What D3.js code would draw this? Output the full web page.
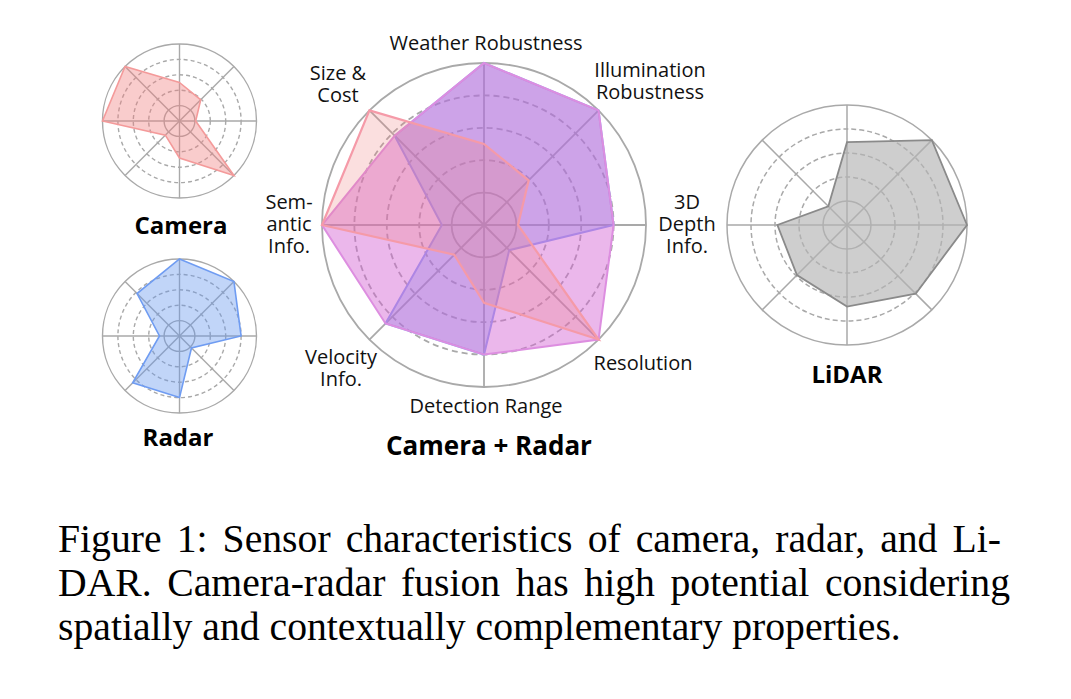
<!DOCTYPE html>
<html><head><meta charset="utf-8">
<script src="https://cdn.jsdelivr.net/npm/d3@7"></script>
<style>body{margin:0;background:#fff} svg{display:block}</style>
</head><body><svg id="c" width="1071" height="699"></svg>
<script>
// ---------- data ----------
const axes = ["Weather Robustness","Illumination Robustness","3D Depth Info.","Resolution","Detection Range","Velocity Info.","Semantic Info.","Size & Cost"];
const cameraValues = [2.5, 1.95, 1.05, 5, 2.4, 1.3, 5, 5];
const radarValues  = [5, 5, 4, 1.1, 4, 4.3, 1.3, 3.9];
const fusionValues = [5, 5, 4, 5, 4, 4.3, 5, 3.9];
const lidarValues  = [3.45, 5, 5, 4.05, 3.4, 2.95, 2.9, 1.1];
const ringTicks = [1, 2, 3, 4, 5];
const axisLabelLines = [["Weather Robustness"],["Illumination","Robustness"],["3D","Depth","Info."],["Resolution"],["Detection Range"],["Velocity","Info."],["Sem-","antic","Info."],["Size &","Cost"]];
const chartTitles = ["Camera","Radar","LiDAR","Camera + Radar"];
const captionLines = [
  "Figure 1: Sensor characteristics of camera, radar, and Li-",
  "DAR. Camera-radar fusion has high potential considering",
  "spatially and contextually complementary properties."
];

// ---------- layout ----------
const svg = d3.select("#c");
const labelPos = [[486,50],[650,77],[687,209],[643,370],[486,413],[341,364],[289,209],[338,80]];
const labelFont = "'Open Sans', 'Noto Sans', sans-serif";

function radar(g, cx, cy, R, series, opt) {
  const r = d3.scaleLinear().domain([0, 5]).range([0, R]);
  const ang = d3.scaleLinear().domain([0, axes.length]).range([0, 2*Math.PI]);
  const root = g.append("g").attr("transform", `translate(${cx},${cy})`);
  const grid = root.append("g");
  grid.selectAll("circle").data(ringTicks).enter().append("circle")
    .attr("r", d => r(d)).attr("fill", "none")
    .attr("stroke", "#a9a9a9").attr("stroke-width", opt.gw)
    .attr("stroke-dasharray", (d,i) => (i === 0 || i === ringTicks.length-1) ? null : opt.dash);
  grid.selectAll("line").data(axes).enter().append("line")
    .attr("x1", 0).attr("y1", 0)
    .attr("x2", (d,i) => r(5)*Math.sin(ang(i)))
    .attr("y2", (d,i) => -r(5)*Math.cos(ang(i)))
    .attr("stroke", "#a9a9a9").attr("stroke-width", opt.gw);
  const line = d3.lineRadial().angle((d,i) => ang(i)).radius(d => r(d)).curve(d3.curveLinearClosed);
  series.forEach(s => {
    root.append("path").attr("d", line(s.values))
      .attr("fill", s.fill).attr("fill-opacity", s.fo)
      .attr("stroke", s.stroke).attr("stroke-width", s.sw).attr("stroke-linejoin", "miter");
  });
  return root;
}

// small camera
radar(svg, 179.5, 121, 77, [
  {values: cameraValues, fill: "#f08080", fo: 0.4, stroke: "#f49a9a", sw: 1.6}
], {gw: 1.4, dash: "4,3"});
// small radar
radar(svg, 179.5, 336, 77, [
  {values: radarValues, fill: "#6495ed", fo: 0.4, stroke: "#6f9cf2", sw: 1.6}
], {gw: 1.4, dash: "4,3"});
// lidar
radar(svg, 847, 225, 120, [
  {values: lidarValues, fill: "#b4b4b4", fo: 0.65, stroke: "#8a8a8a", sw: 1.8}
], {gw: 1.5, dash: "5,3"});
// main fusion chart
radar(svg, 484, 225, 162, [
  {values: radarValues, fill: "#6495ed", fo: 0.35, stroke: "#8fa6f2", sw: 2},
  {values: fusionValues, fill: "#d35fd3", fo: 0.45, stroke: "#dd8ee0", sw: 2},
  {values: cameraValues, fill: "#f08080", fo: 0.25, stroke: "#f59aa8", sw: 2.2}
], {gw: 1.8, dash: "6,4"});

// axis labels of main chart
axisLabelLines.forEach((lines, i) => {
  const t = svg.append("text").attr("text-anchor", "middle")
    .attr("font-family", labelFont).attr("font-size", 20).attr("fill", "#111");
  lines.forEach((ln, j) => {
    t.append("tspan").attr("x", labelPos[i][0]).attr("y", labelPos[i][1] + j*22).text(ln);
  });
});

// chart titles
const titlePos = [[181,234,24],[178,446,24],[847,383,24],[489,455,26]];
chartTitles.forEach((tt, i) => {
  svg.append("text").attr("x", titlePos[i][0]).attr("y", titlePos[i][1])
    .attr("text-anchor", "middle").attr("font-family", labelFont)
    .attr("font-weight", 700).attr("font-size", titlePos[i][2]).attr("fill", "#000").text(tt);
});

// caption (justified)
const serif = "'Liberation Serif', 'Times New Roman', serif";
const probe = svg.append("text").attr("font-family", serif).attr("font-size", 100).text(captionLines[2]);
const fs = 100 * 843 / probe.node().getComputedTextLength();
probe.remove();
const capX0 = 58, capRight = [1001, 1010, null], capY = [552, 596, 640];
captionLines.forEach((ln, k) => {
  const g = svg.append("g").attr("font-family", serif).attr("font-size", fs).attr("fill", "#000");
  if (capRight[k] === null) {
    g.append("text").attr("x", capX0).attr("y", capY[k]).text(ln);
    return;
  }
  const words = ln.split(" ");
  const texts = g.selectAll("text").data(words).enter().append("text").attr("y", capY[k]).text(d => d);
  const widths = texts.nodes().map(n => n.getComputedTextLength());
  const gap = (capRight[k] - capX0 - d3.sum(widths)) / (words.length - 1);
  let x = capX0;
  const xs = widths.map(w => { const xi = x; x += w + gap; return xi; });
  texts.attr("x", (d, i) => xs[i]);
});
</script></body></html>
